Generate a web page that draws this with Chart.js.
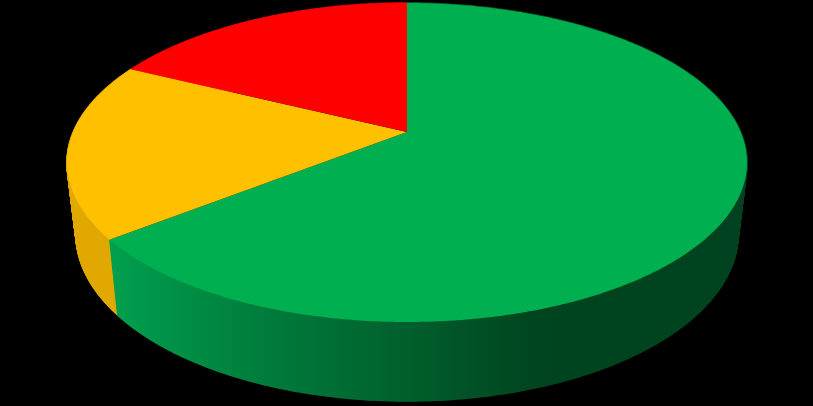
<!DOCTYPE html>
<html>
<head>
<meta charset="utf-8">
<title>Pie</title>
<script src="https://cdn.jsdelivr.net/npm/chart.js@4"></script>
<style>
    html, body { margin: 0; padding: 0; background: #000; }
    #box { width: 813px; height: 406px; position: relative; }
</style>
</head>
<body>
<div id="box"><canvas id="chart-pie"></canvas></div>
<script>
const categories = ["Green", "Yellow", "Red"];
const values = [64.4, 17.9, 17.7];
const faceColors = ["#00B050", "#FFC000", "#FF0000"];

// perspective of the disc: top rim and bottom rim are both projected circles
const tilt = 0.191;
const topRim = { cx: 407, cy: 162.5, rx: 340, ry: 159.5 };
const bottomRim = { cx: 407, cy: 234, rx: 331, ry: 167 };
const wallSteps = 160;

function project(rim, angle) {
    const x = Math.cos(angle), y = Math.sin(angle);
    const d = 1 - tilt * y;
    const q = 1 - tilt * tilt;
    return {
        x: rim.cx + rim.rx * Math.sqrt(q) * x / d,
        y: rim.cy - rim.ry * tilt + rim.ry * q * y / d,
    };
}

function arcPoints(rim, start, end) {
    const n = Math.max(2, Math.ceil((end - start) / 0.01));
    const pts = [];
    for (let i = 0; i <= n; i++) {
        pts.push(project(rim, start + (end - start) * i / n));
    }
    return pts;
}

function rimAt(t) {
    return {
        cx: topRim.cx,
        cy: bottomRim.cy + (topRim.cy - bottomRim.cy) * t,
        rx: bottomRim.rx + (topRim.rx - bottomRim.rx) * t,
        ry: bottomRim.ry + (topRim.ry - bottomRim.ry) * t,
    };
}

function wallFill(ctx, index) {
    if (index === 1) return "#E0A900";
    if (index === 2) return "#E00000";
    const g = ctx.createLinearGradient(109, 0, 747, 0);
    g.addColorStop(0, "#00A04E");
    g.addColorStop(0.22, "#007F3D");
    g.addColorStop(0.47, "#005F2D");
    g.addColorStop(0.66, "#00451F");
    g.addColorStop(1, "#00421F");
    return g;
}

const tiltedPie = {
    id: "tiltedPie",
    beforeDatasetsDraw(chart) {
        const ctx = chart.ctx;
        const arcs = chart.getDatasetMeta(0).data;
        ctx.save();
        ctx.lineWidth = 1.5;
        // side wall: sweep the rim from bottom to top
        for (let s = 0; s <= wallSteps; s++) {
            const rim = rimAt(s / wallSteps);
            arcs.forEach((arc, i) => {
                ctx.beginPath();
                arcPoints(rim, arc.startAngle, arc.endAngle).forEach((p, j) => (j ? ctx.lineTo(p.x, p.y) : ctx.moveTo(p.x, p.y)));
                ctx.strokeStyle = wallFill(ctx, i);
                ctx.stroke();
            });
        }
        const centre = { x: topRim.cx, y: topRim.cy - topRim.ry * tilt };
        arcs.forEach((arc) => {
            ctx.beginPath();
            ctx.moveTo(centre.x, centre.y);
            arcPoints(topRim, arc.startAngle, arc.endAngle).forEach((p) => ctx.lineTo(p.x, p.y));
            ctx.closePath();
            ctx.fillStyle = arc.options.backgroundColor;
            ctx.fill();
        });
        ctx.restore();
        return false;
    },
};

new Chart(document.getElementById("chart-pie"), {
    type: "pie",
    data: {
        labels: categories,
        datasets: [{ data: values, backgroundColor: faceColors, borderWidth: 0 }],
    },
    options: {
        responsive: true,
        maintainAspectRatio: false,
        animation: false,
        plugins: { legend: { display: false }, tooltip: { enabled: false } },
    },
    plugins: [tiltedPie],
});
</script>
</body>
</html>
